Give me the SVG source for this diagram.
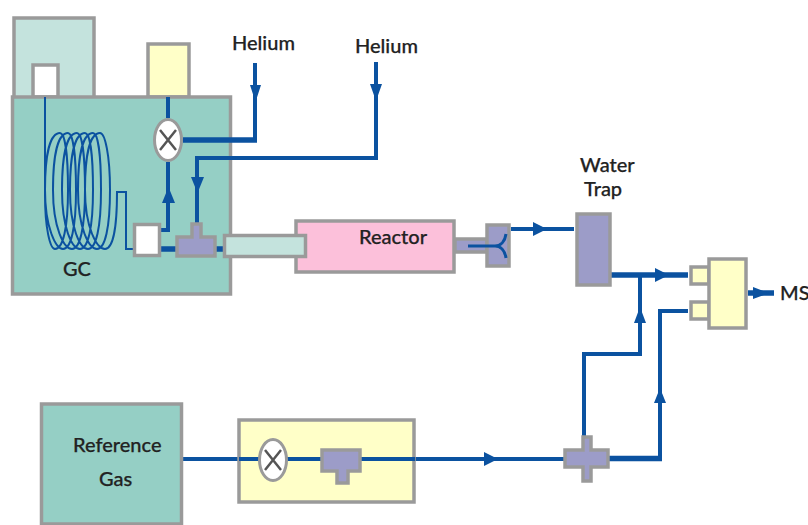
<svg xmlns="http://www.w3.org/2000/svg" width="808" height="525" viewBox="0 0 808 525">
<style>
.box{stroke:#9a9a9a;stroke-width:3.5}
.teal{fill:#95cfc5}.pale{fill:#c4e3dd}.white{fill:#fff}.yellow{fill:#ffffc8}.pink{fill:#fcc0da}.violet{fill:#9c9cc8}
.pipe{fill:none;stroke:#0b52a0;stroke-width:4}
.fine{stroke-width:2}
.thick{stroke-width:5.500}
.head{fill:#0b52a0}
.valve{fill:#fff;stroke:#9a9a9a;stroke-width:3}
.x{fill:none;stroke:#555;stroke-width:2.500}
text{font-family:"Lato","Open Sans","Liberation Sans",sans-serif;font-size:20px;fill:#222;font-weight:500;stroke:#222;stroke-width:.25}
</style>
<rect width="808" height="525" fill="#fff"/>
<g id="column-oven-top"><rect class="box pale" x="14" y="18" width="80" height="80"/></g>
<g id="injector"><rect class="box white" x="33" y="65" width="25" height="32"/></g>
<g id="carrier-vessel"><rect class="box yellow" x="148" y="44" width="41" height="53"/></g>
<g id="gc"><rect class="box teal" x="12.500" y="97" width="218" height="197"/><text x="63" y="276">GC</text></g>
<g id="connectors-inside-gc">
<path class="pipe fine" d="M45 97V195C45 228 50 249 55 249C63 249 68 228 68 190C68 155 65 133 60 133C50 133 45 155 45 190C45 228 56 249 63 249C71 249 76 228 76 190C76 155 73 133 68 133C58 133 53 155 53 190C53 228 64 249 72 249C80 249 85 228 85 190C85 155 82 133 77 133C67 133 62 155 62 190C62 228 72 249 80 249C88 249 93 228 93 190C93 155 90 133 85 133C75 133 70 155 70 190C70 228 80 249 88 249C96 249 101 228 101 190C101 155 98 133 93 133C83 133 78 155 78 190C78 228 89 249 97 249C105 249 110 228 110 190C110 155 105 133 100 133C90 133 85 155 85 190C85 228 97 249 105 249C113 249 117 228 117 192H126V249H134"/>
</g>
<g id="connectors">
<path class="pipe" d="M255 63V140"/>
<path class="pipe thick" d="M183 140H257"/>
<path class="pipe" d="M376 62V158H197V224"/>
<path class="pipe" d="M168 97V118M168 162V230H160"/>
<path class="pipe thick" d="M160 249H176M215 249H224"/>
<path class="pipe" d="M511 229H574"/>
<path class="pipe thick" d="M611 275H688"/>
<path class="pipe" d="M640 275V354H584V437"/>
<path class="pipe" d="M688 311H660V459"/>
<path class="pipe" d="M182 459H564"/>
<path class="pipe thick" d="M609 458.500H662"/>
<path class="pipe thick" d="M748 293H774"/>
<path class="head" d="M250 85H261L255.500 102ZM370 84H382L376 101ZM191 177H204L197.500 193ZM162 203H175L168.500 187ZM533 222V236L547 229ZM655 268V282L669 275ZM634 323H646L640 307ZM654 403H666L660 388ZM484 452V466L498 459ZM753 287V299L769 293Z"/>
</g>
<g id="valve-gc"><ellipse class="valve" cx="168" cy="140" rx="13.500" ry="20.500"/><path class="x" d="M160 130L176 150M176 130L160 150"/></g>
<g id="trap-box"><rect class="box white" x="134.500" y="224.500" width="25" height="31"/></g>
<g id="tee-gc"><path class="box violet" d="M177 237H192V224H201V237H215V256H177Z"/></g>
<g id="reactor"><rect class="box pink" x="296" y="221" width="158" height="51"/><text x="359" y="244">Reactor</text></g>
<g id="transfer-tube"><rect class="box pale" x="224.500" y="235.500" width="81" height="21"/></g>
<g id="splitter">
<rect class="box violet" x="455" y="239" width="32" height="13"/>
<rect class="box violet" x="487" y="225" width="22" height="41"/>
<path class="pipe" style="stroke-width:3" d="M468 246H495C501 246 505 241 506 234M495 246C501 246 505 251 506 258"/>
</g>
<g id="water-trap"><rect class="box violet" x="577" y="214" width="33" height="71"/><text x="580" y="172">Water</text><text x="584" y="196">Trap</text></g>
<g id="ms-inlet"><rect class="box yellow" x="691" y="267" width="18" height="17"/><rect class="box yellow" x="691" y="302" width="18" height="17"/><rect class="box yellow" x="709" y="259" width="37" height="69"/></g>
<g id="ms"><text x="780" y="300">MS</text></g>
<g id="helium-1"><text x="232" y="50">Helium</text></g>
<g id="helium-2"><text x="355" y="53">Helium</text></g>
<g id="reference-gas"><rect class="box teal" x="41.500" y="404" width="140" height="120"/><text x="73" y="452">Reference</text><text x="99" y="486">Gas</text></g>
<g id="reference-panel"><rect class="box yellow" x="239" y="420" width="175" height="82"/>
<path class="pipe" d="M239 459H415"/>
<ellipse class="valve" cx="273" cy="460" rx="13.500" ry="20.500"/><path class="x" d="M265 450L281 470M281 450L265 470"/>
<path class="box violet" d="M322 450H360V471H348V483H337V471H322Z"/></g>
<g id="cross"><path class="box violet" d="M583 437H591V450H608V467H591V481H583V467H565V450H583Z"/></g>
</svg>
